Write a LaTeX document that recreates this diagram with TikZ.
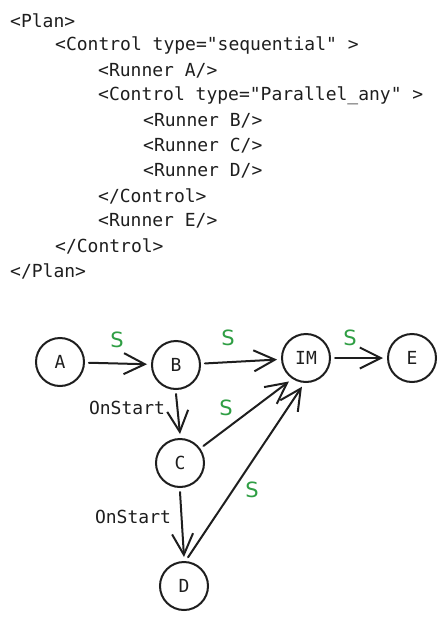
\documentclass[tikz,border=0pt]{standalone}
\usepackage{fontspec}
\setmonofont{DejaVu Sans Mono}
\newfontfamily\labelfont{DejaVu Sans}
\usetikzlibrary{arrows.meta}
\definecolor{ink}{HTML}{1E1E1E}
\definecolor{sgreen}{HTML}{2F9E44}
\tikzset{
  code/.style={anchor=west, inner sep=0pt, text=ink, font=\ttfamily\fontsize{18}{18}\selectfont},
  runner/.style={circle, draw=ink, line width=2pt, minimum size=48pt, inner sep=0pt, outer sep=5pt, text=ink, font=\ttfamily\fontsize{18}{18}\selectfont},
  link/.style={draw=ink, line width=2pt, line cap=round, -{Straight Barb[length=21pt,width=21pt,line width=2pt]}},
  slabel/.style={text=sgreen, inner sep=0pt, font=\labelfont\fontsize{21}{21}\selectfont},
  elabel/.style={text=ink, inner sep=0pt, font=\ttfamily\fontsize{18}{18}\selectfont}
}
\begin{document}
\begin{tikzpicture}[x=1pt,y=-1pt]
\useasboundingbox (0,0) rectangle (445,621);
% code listing
\node[code] (l1)  at (10,21)  {<Plan>};
\node[code] (l2)  at (55,46)  {<Control type="sequential" >};
\node[code] (l3)  at (98,71)  {<Runner A/>};
\node[code] (l4)  at (98,96)  {<Control type="Parallel\_any" >};
\node[code] (l5)  at (143,121) {<Runner B/>};
\node[code] (l6)  at (143,146) {<Runner C/>};
\node[code] (l7)  at (143,171) {<Runner D/>};
\node[code] (l8)  at (98,196) {</Control>};
\node[code] (l9)  at (98,221) {<Runner E/>};
\node[code] (l10) at (55,246) {</Control>};
\node[code] (l11) at (10,271) {</Plan>};
% graph
\node[runner] (A)  at (60,362)  {A};
\node[runner] (B)  at (176,365) {B};
\node[runner] (IM) at (306,358) {IM};
\node[runner] (E)  at (412,358) {E};
\node[runner] (C)  at (180,463) {C};
\node[runner] (D)  at (184,586) {D};
\draw[link] (A) -- (B);
\draw[link] (B) -- (IM);
\draw[link] (IM) -- (E);
\draw[link] (B.south) -- (C.north);
\draw[link] (C.36) -- (IM.234);
\draw[link] (C.south) -- (D.north);
\draw[link] (D.82) -- (IM.262);
% labels
\node[slabel] (s1) at (117,340) {S};
\node[slabel] (s2) at (228,338) {S};
\node[slabel] (s3) at (350,338) {S};
\node[slabel] (s4) at (226,408) {S};
\node[slabel] (s5) at (252,490) {S};
\node[elabel] (o1) at (127,408) {OnStart};
\node[elabel] (o2) at (133,517) {OnStart};
\end{tikzpicture}
\end{document}
